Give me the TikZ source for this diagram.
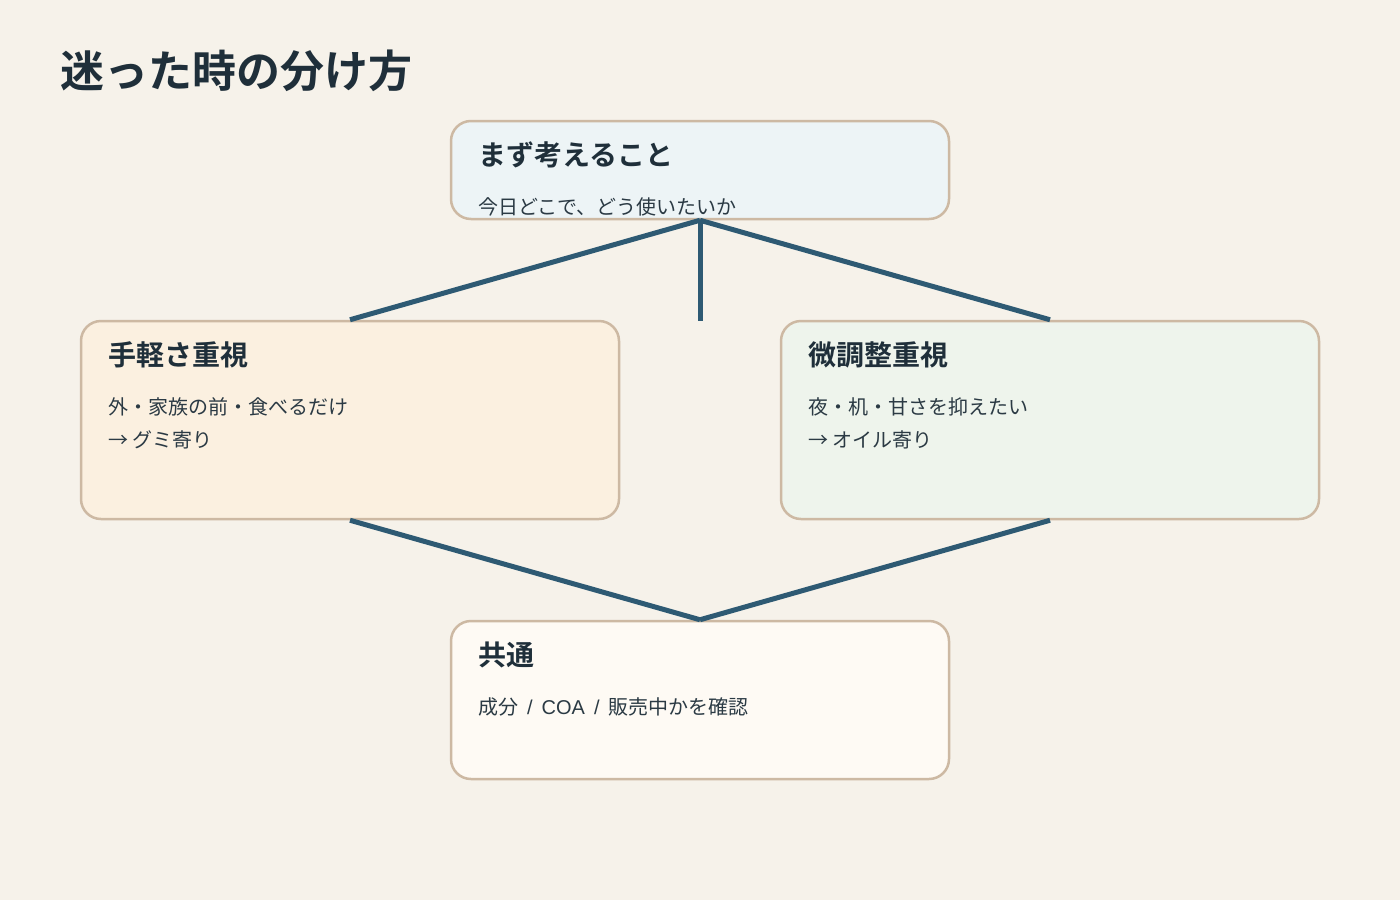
\documentclass[tikz,border=0pt]{standalone}
\usepackage{fontspec}
\setmainfont{Noto Sans CJK JP}
\newfontfamily\jpbold{Noto Sans CJK JP Bold}
\newfontfamily\latinsans{Liberation Sans}
\definecolor{bgc}{HTML}{F6F2EA}
\definecolor{edgec}{HTML}{CDB9A3}
\definecolor{linkc}{HTML}{2E5A73}
\definecolor{txtc}{HTML}{1F2F3A}
\definecolor{bodyc}{HTML}{2B3A44}
\definecolor{fillA}{HTML}{EDF4F6}
\definecolor{fillB}{HTML}{FBF0E0}
\definecolor{fillC}{HTML}{EEF4EC}
\definecolor{fillD}{HTML}{FEFAF4}
\begin{document}
\begin{tikzpicture}[x=1pt,y=-1pt,
  card/.style={draw=edgec,line width=2.5pt,rounded corners=20pt,inner sep=0pt,minimum width=498pt},
  head/.style={anchor=base west,inner sep=0pt,text=txtc,font=\jpbold\fontsize{28}{32}\selectfont},
  body/.style={anchor=base west,inner sep=0pt,text=bodyc,font=\fontsize{20}{24}\selectfont},
  link/.style={draw=linkc,line width=5pt}]
\fill[bgc] (0,0) rectangle (1400,900);
\useasboundingbox (0,0) rectangle (1400,900);
\node[anchor=base west,inner sep=0pt,text=txtc,font=\jpbold\fontsize{44}{50}\selectfont] (title) at (60,87) {迷った時の分け方};
\node[card,fill=fillA,minimum height=98pt] (top) at (700,170) {};
\node[card,fill=fillB,minimum width=538pt,minimum height=198pt] (left) at (350,420) {};
\node[card,fill=fillC,minimum width=538pt,minimum height=198pt] (right) at (1050,420) {};
\node[card,fill=fillD,minimum height=158pt] (bottom) at (700,700) {};
\coordinate (mid) at (700,321);
\draw[link] (top.south) -- (left.north);
\draw[link] (top.south) -- (mid);
\draw[link] (top.south) -- (right.north);
\draw[link] (left.south) -- (bottom.north);
\draw[link] (right.south) -- (bottom.north);
\node[head] (th) at (478,165) {まず考えること};
\node[body] (tb) at (478,214) {今日どこで、どう使いたいか};
\node[head] (lh) at (108,365) {手軽さ重視};
\node[body] (lb1) at (108,414) {外・家族の前・食べるだけ};
\node[body] (lb2) at (108,447) {→ グミ寄り};
\node[head] (rh) at (808,365) {微調整重視};
\node[body] (rb1) at (808,414) {夜・机・甘さを抑えたい};
\node[body] (rb2) at (808,447) {→ オイル寄り};
\node[head] (bh) at (478,665) {共通};
\node[body] (bb) at (478,714) {成分{\latinsans\spaceskip=9pt\relax\ / COA / }販売中かを確認};
\end{tikzpicture}
\end{document}
